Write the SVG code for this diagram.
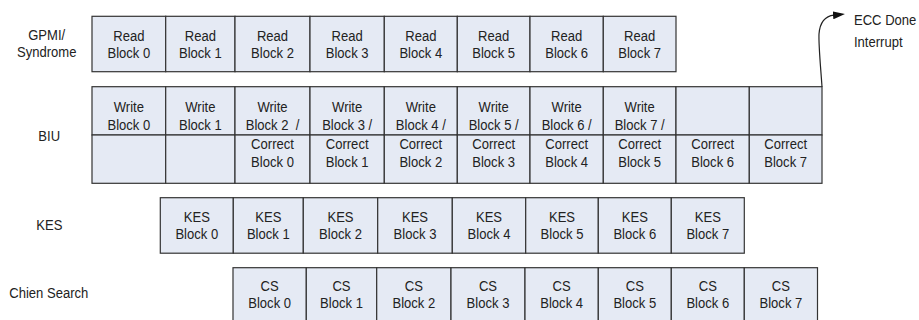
<svg xmlns="http://www.w3.org/2000/svg" width="919" height="320" viewBox="0 0 919 320">
<style>
.cell{fill:#E5EAF4;stroke:#333;stroke-width:1.2}
.t{font-family:"Liberation Sans",Arial,sans-serif;font-size:14.5px;fill:#222;text-anchor:middle;white-space:pre}
.ts{font-family:"Liberation Sans",Arial,sans-serif;font-size:14.5px;fill:#222;text-anchor:start}
.conn{fill:none;stroke:#222;stroke-width:1.2}
</style>
<defs>
<marker id="ah" markerUnits="userSpaceOnUse" markerWidth="13" markerHeight="8" refX="1" refY="4" orient="auto">
<path d="M0,0 L12,4 L0,8 z" fill="#111"/>
</marker>
</defs>
<rect width="919" height="320" fill="#fff"/>
<g id="labels">
<text class="t" transform="translate(46.7,0) scale(0.9,1)"><tspan x="0" y="40.3">GPMI/</tspan><tspan x="0" y="57.5">Syndrome</tspan></text>
<text class="t" transform="translate(49.2,141) scale(0.9,1)">BIU</text>
<text class="t" transform="translate(49.3,230) scale(0.9,1)">KES</text>
<text class="t" transform="translate(48.8,298.3) scale(0.9,1)">Chien Search</text>
<text class="ts" transform="translate(854,25) scale(0.9,1)">ECC Done</text>
<text class="ts" transform="translate(854,46.7) scale(0.9,1)">Interrupt</text>
</g>
<g id="read-row">
<g id="read0"><rect class="cell" x="92" y="16.3" width="73.7" height="55.4"/><text class="t" transform="translate(128.85,0) scale(0.9,1)"><tspan x="0" y="40.7">Read</tspan><tspan x="0" y="57.7">Block 0</tspan></text></g>
<g id="read1"><rect class="cell" x="165.7" y="16.3" width="69.3" height="55.4"/><text class="t" transform="translate(200.35,0) scale(0.9,1)"><tspan x="0" y="40.7">Read</tspan><tspan x="0" y="57.7">Block 1</tspan></text></g>
<g id="read2"><rect class="cell" x="235" y="16.3" width="75" height="55.4"/><text class="t" transform="translate(272.5,0) scale(0.9,1)"><tspan x="0" y="40.7">Read</tspan><tspan x="0" y="57.7">Block 2</tspan></text></g>
<g id="read3"><rect class="cell" x="310" y="16.3" width="74.3" height="55.4"/><text class="t" transform="translate(347.15,0) scale(0.9,1)"><tspan x="0" y="40.7">Read</tspan><tspan x="0" y="57.7">Block 3</tspan></text></g>
<g id="read4"><rect class="cell" x="384.3" y="16.3" width="73" height="55.4"/><text class="t" transform="translate(420.8,0) scale(0.9,1)"><tspan x="0" y="40.7">Read</tspan><tspan x="0" y="57.7">Block 4</tspan></text></g>
<g id="read5"><rect class="cell" x="457.3" y="16.3" width="72.7" height="55.4"/><text class="t" transform="translate(493.65,0) scale(0.9,1)"><tspan x="0" y="40.7">Read</tspan><tspan x="0" y="57.7">Block 5</tspan></text></g>
<g id="read6"><rect class="cell" x="530" y="16.3" width="73.3" height="55.4"/><text class="t" transform="translate(566.65,0) scale(0.9,1)"><tspan x="0" y="40.7">Read</tspan><tspan x="0" y="57.7">Block 6</tspan></text></g>
<g id="read7"><rect class="cell" x="603.3" y="16.3" width="72.7" height="55.4"/><text class="t" transform="translate(639.65,0) scale(0.9,1)"><tspan x="0" y="40.7">Read</tspan><tspan x="0" y="57.7">Block 7</tspan></text></g>
</g>
<g id="biu-row">
<g id="biu0"><rect class="cell" x="92" y="86.7" width="73.7" height="48.3"/><rect class="cell" x="92" y="135" width="73.7" height="48.3"/><text class="t" transform="translate(128.85,0) scale(0.9,1)"><tspan x="0" y="112.2">Write</tspan><tspan x="0" y="130">Block 0</tspan></text></g>
<g id="biu1"><rect class="cell" x="165.7" y="86.7" width="69.3" height="48.3"/><rect class="cell" x="165.7" y="135" width="69.3" height="48.3"/><text class="t" transform="translate(200.35,0) scale(0.9,1)"><tspan x="0" y="112.2">Write</tspan><tspan x="0" y="130">Block 1</tspan></text></g>
<g id="biu2"><rect class="cell" x="235" y="86.7" width="75" height="48.3"/><rect class="cell" x="235" y="135" width="75" height="48.3"/><text class="t" transform="translate(272.5,0) scale(0.9,1)"><tspan x="0" y="112.2">Write</tspan><tspan x="0" y="130">Block 2  /</tspan><tspan x="0" y="149.3">Correct</tspan><tspan x="0" y="167.3">Block 0</tspan></text></g>
<g id="biu3"><rect class="cell" x="310" y="86.7" width="74.3" height="48.3"/><rect class="cell" x="310" y="135" width="74.3" height="48.3"/><text class="t" transform="translate(347.15,0) scale(0.9,1)"><tspan x="0" y="112.2">Write</tspan><tspan x="0" y="130">Block 3 /</tspan><tspan x="0" y="149.3">Correct</tspan><tspan x="0" y="167.3">Block 1</tspan></text></g>
<g id="biu4"><rect class="cell" x="384.3" y="86.7" width="73" height="48.3"/><rect class="cell" x="384.3" y="135" width="73" height="48.3"/><text class="t" transform="translate(420.8,0) scale(0.9,1)"><tspan x="0" y="112.2">Write</tspan><tspan x="0" y="130">Block 4 /</tspan><tspan x="0" y="149.3">Correct</tspan><tspan x="0" y="167.3">Block 2</tspan></text></g>
<g id="biu5"><rect class="cell" x="457.3" y="86.7" width="72.7" height="48.3"/><rect class="cell" x="457.3" y="135" width="72.7" height="48.3"/><text class="t" transform="translate(493.65,0) scale(0.9,1)"><tspan x="0" y="112.2">Write</tspan><tspan x="0" y="130">Block 5 /</tspan><tspan x="0" y="149.3">Correct</tspan><tspan x="0" y="167.3">Block 3</tspan></text></g>
<g id="biu6"><rect class="cell" x="530" y="86.7" width="73.3" height="48.3"/><rect class="cell" x="530" y="135" width="73.3" height="48.3"/><text class="t" transform="translate(566.65,0) scale(0.9,1)"><tspan x="0" y="112.2">Write</tspan><tspan x="0" y="130">Block 6 /</tspan><tspan x="0" y="149.3">Correct</tspan><tspan x="0" y="167.3">Block 4</tspan></text></g>
<g id="biu7"><rect class="cell" x="603.3" y="86.7" width="72.7" height="48.3"/><rect class="cell" x="603.3" y="135" width="72.7" height="48.3"/><text class="t" transform="translate(639.65,0) scale(0.9,1)"><tspan x="0" y="112.2">Write</tspan><tspan x="0" y="130">Block 7 /</tspan><tspan x="0" y="149.3">Correct</tspan><tspan x="0" y="167.3">Block 5</tspan></text></g>
<g id="biu8"><rect class="cell" x="676" y="86.7" width="73.3" height="48.3"/><rect class="cell" x="676" y="135" width="73.3" height="48.3"/><text class="t" transform="translate(712.65,0) scale(0.9,1)"><tspan x="0" y="149.3">Correct</tspan><tspan x="0" y="167.3">Block 6</tspan></text></g>
<g id="biu9"><rect class="cell" x="749.3" y="86.7" width="72.7" height="48.3"/><rect class="cell" x="749.3" y="135" width="72.7" height="48.3"/><text class="t" transform="translate(785.65,0) scale(0.9,1)"><tspan x="0" y="149.3">Correct</tspan><tspan x="0" y="167.3">Block 7</tspan></text></g>
</g>
<g id="kes-row">
<g id="kes0"><rect class="cell" x="160.3" y="197.7" width="73" height="55.5"/><text class="t" transform="translate(196.8,0) scale(0.9,1)"><tspan x="0" y="222">KES</tspan><tspan x="0" y="239">Block 0</tspan></text></g>
<g id="kes1"><rect class="cell" x="233.3" y="197.7" width="70" height="55.5"/><text class="t" transform="translate(268.3,0) scale(0.9,1)"><tspan x="0" y="222">KES</tspan><tspan x="0" y="239">Block 1</tspan></text></g>
<g id="kes2"><rect class="cell" x="303.3" y="197.7" width="74.4" height="55.5"/><text class="t" transform="translate(340.5,0) scale(0.9,1)"><tspan x="0" y="222">KES</tspan><tspan x="0" y="239">Block 2</tspan></text></g>
<g id="kes3"><rect class="cell" x="377.7" y="197.7" width="74.6" height="55.5"/><text class="t" transform="translate(415,0) scale(0.9,1)"><tspan x="0" y="222">KES</tspan><tspan x="0" y="239">Block 3</tspan></text></g>
<g id="kes4"><rect class="cell" x="452.3" y="197.7" width="73.4" height="55.5"/><text class="t" transform="translate(489,0) scale(0.9,1)"><tspan x="0" y="222">KES</tspan><tspan x="0" y="239">Block 4</tspan></text></g>
<g id="kes5"><rect class="cell" x="525.7" y="197.7" width="72.6" height="55.5"/><text class="t" transform="translate(562,0) scale(0.9,1)"><tspan x="0" y="222">KES</tspan><tspan x="0" y="239">Block 5</tspan></text></g>
<g id="kes6"><rect class="cell" x="598.3" y="197.7" width="73" height="55.5"/><text class="t" transform="translate(634.8,0) scale(0.9,1)"><tspan x="0" y="222">KES</tspan><tspan x="0" y="239">Block 6</tspan></text></g>
<g id="kes7"><rect class="cell" x="671.3" y="197.7" width="73" height="55.5"/><text class="t" transform="translate(707.8,0) scale(0.9,1)"><tspan x="0" y="222">KES</tspan><tspan x="0" y="239">Block 7</tspan></text></g>
</g>
<g id="cs-row">
<g id="cs0"><rect class="cell" x="233" y="267.7" width="73.3" height="62"/><text class="t" transform="translate(269.65,0) scale(0.9,1)"><tspan x="0" y="291.5">CS</tspan><tspan x="0" y="308.5">Block 0</tspan></text></g>
<g id="cs1"><rect class="cell" x="306.3" y="267.7" width="70.4" height="62"/><text class="t" transform="translate(341.5,0) scale(0.9,1)"><tspan x="0" y="291.5">CS</tspan><tspan x="0" y="308.5">Block 1</tspan></text></g>
<g id="cs2"><rect class="cell" x="376.7" y="267.7" width="74.3" height="62"/><text class="t" transform="translate(413.85,0) scale(0.9,1)"><tspan x="0" y="291.5">CS</tspan><tspan x="0" y="308.5">Block 2</tspan></text></g>
<g id="cs3"><rect class="cell" x="451" y="267.7" width="74" height="62"/><text class="t" transform="translate(488,0) scale(0.9,1)"><tspan x="0" y="291.5">CS</tspan><tspan x="0" y="308.5">Block 3</tspan></text></g>
<g id="cs4"><rect class="cell" x="525" y="267.7" width="73.3" height="62"/><text class="t" transform="translate(561.65,0) scale(0.9,1)"><tspan x="0" y="291.5">CS</tspan><tspan x="0" y="308.5">Block 4</tspan></text></g>
<g id="cs5"><rect class="cell" x="598.3" y="267.7" width="73" height="62"/><text class="t" transform="translate(634.8,0) scale(0.9,1)"><tspan x="0" y="291.5">CS</tspan><tspan x="0" y="308.5">Block 5</tspan></text></g>
<g id="cs6"><rect class="cell" x="671.3" y="267.7" width="73" height="62"/><text class="t" transform="translate(707.8,0) scale(0.9,1)"><tspan x="0" y="291.5">CS</tspan><tspan x="0" y="308.5">Block 6</tspan></text></g>
<g id="cs7"><rect class="cell" x="744.3" y="267.7" width="73.2" height="62"/><text class="t" transform="translate(780.9,0) scale(0.9,1)"><tspan x="0" y="291.5">CS</tspan><tspan x="0" y="308.5">Block 7</tspan></text></g>
</g>
<g id="connectors">
<path class="conn" d="M822,86.7 C820.5,65 818.5,45 819,34 C820,22 826,16 834,15.2" marker-end="url(#ah)"/>
</g>
</svg>
